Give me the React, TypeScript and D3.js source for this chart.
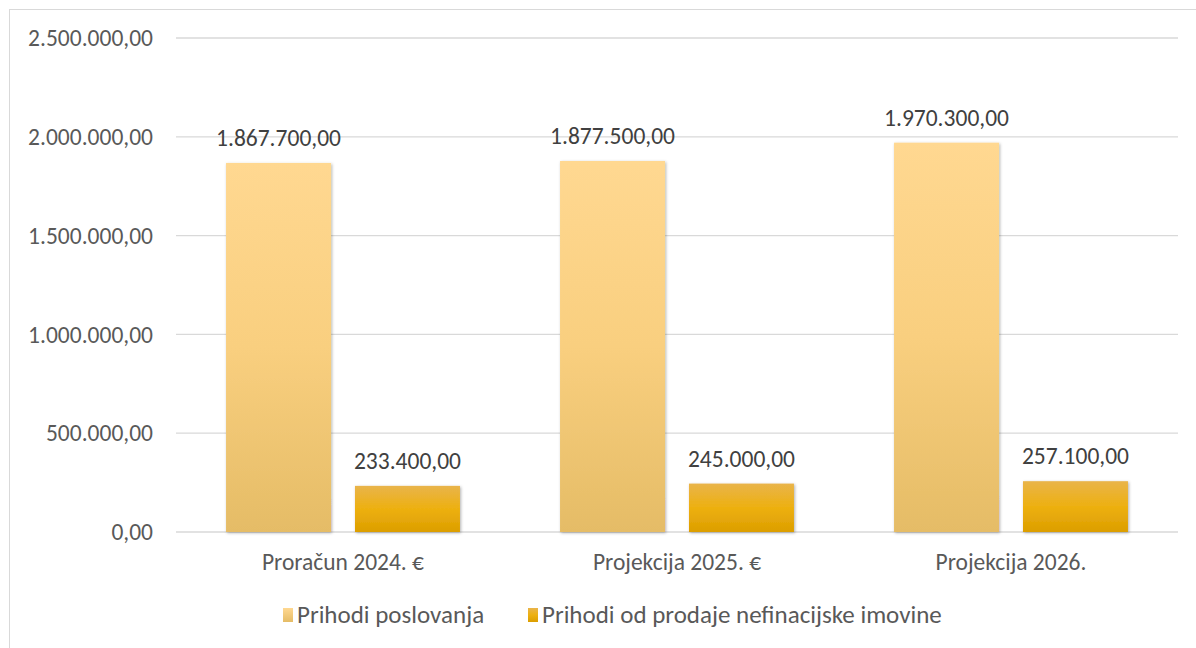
import React from 'react';
import * as d3 from 'd3';

const WIDTH = 1196;
const HEIGHT = 648;
const MARGIN = { top: 38, right: 18, bottom: 116, left: 176 };

const categories = ['Proračun 2024. €', 'Projekcija 2025. €', 'Projekcija 2026.'];
const seriesNames = ['Prihodi poslovanja', 'Prihodi od prodaje nefinacijske imovine'];
const prihodiPoslovanja = [1867700, 1877500, 1970300];
const prihodiProdaje = [233400, 245000, 257100];
const yTicks = [0, 500000, 1000000, 1500000, 2000000, 2500000];

const FONT = 'Carlito, Lato, "Open Sans", sans-serif';
const TEXT = '#595959';
const FS = 23.5;

const fmt = (v: number) => {
  const [i, d] = v.toFixed(2).split('.');
  return i.replace(/\B(?=(\d{3})+(?!\d))/g, '.') + ',' + d;
};

const App = () => {
  const boundsWidth = WIDTH - MARGIN.left - MARGIN.right;
  const boundsHeight = HEIGHT - MARGIN.top - MARGIN.bottom;

  const xScale = d3.scaleBand().domain(categories).range([0, boundsWidth]);
  const xInner = d3
    .scaleBand()
    .domain(seriesNames)
    .range([0, xScale.bandwidth()])
    .paddingInner(0.186)
    .paddingOuter(0.388);
  const yScale = d3.scaleLinear().domain([0, 2500000]).range([boundsHeight, 0]);

  const series = [prihodiPoslovanja, prihodiProdaje];
  const fills = ['url(#gradA)', 'url(#gradB)'];

  return (
    <svg width={WIDTH} height={HEIGHT} style={{ display: 'block', position: 'absolute', left: 0, top: 0 }}>
      <defs>
        <linearGradient id="gradA" x1="0" y1="0" x2="0" y2="1">
          <stop offset="0%" stopColor="#ffd891" />
          <stop offset="50%" stopColor="#f9cf7f" />
          <stop offset="100%" stopColor="#e5bc66" />
        </linearGradient>
        <linearGradient id="gradB" x1="0" y1="0" x2="0" y2="1">
          <stop offset="0%" stopColor="#e9b44a" />
          <stop offset="50%" stopColor="#edb010" />
          <stop offset="100%" stopColor="#dc9e00" />
        </linearGradient>
        <linearGradient id="legA" x1="0" y1="0" x2="0" y2="1">
          <stop offset="0%" stopColor="#ffd891" />
          <stop offset="100%" stopColor="#e5bc66" />
        </linearGradient>
        <filter id="shadow" x="-10%" y="-10%" width="120%" height="120%">
          <feDropShadow dx="1" dy="1" stdDeviation="1.5" floodColor="#000" floodOpacity="0.3" />
        </filter>
      </defs>
      <rect x={9.5} y={9.5} width={WIDTH - 9} height={HEIGHT} fill="#fff" stroke="#d9d9d9" />
      <g transform={`translate(${MARGIN.left},${MARGIN.top})`}>
        {yTicks.map((t) => (
          <g key={t}>
            <line x1={0} x2={boundsWidth} y1={yScale(t)} y2={yScale(t)} stroke="#d9d9d9" strokeWidth={1.3} />
            <text
              x={-23}
              y={yScale(t)}
              dy="0.35em"
              textAnchor="end"
              fontFamily={FONT}
              fontSize={FS}
              fill={TEXT}
            >
              {fmt(t)}
            </text>
          </g>
        ))}
        {categories.map((c, ci) => (
          <g key={c} transform={`translate(${xScale(c)},0)`}>
            {series.map((s, si) => {
              const x = xInner(seriesNames[si]) ?? 0;
              const y = yScale(s[ci]);
              return (
                <g key={si}>
                  <rect
                    x={x}
                    y={y}
                    width={xInner.bandwidth()}
                    height={boundsHeight - y}
                    fill={fills[si]}
                    filter="url(#shadow)"
                  />
                  <text
                    x={x + xInner.bandwidth() / 2}
                    y={y - 17}
                    textAnchor="middle"
                    fontFamily={FONT}
                    fontSize={FS}
                    fill="#404040"
                  >
                    {fmt(s[ci])}
                  </text>
                </g>
              );
            })}
            <text
              x={xScale.bandwidth() / 2}
              y={boundsHeight + 38}
              textAnchor="middle"
              fontFamily={FONT}
              fontSize={FS}
              fill={TEXT}
            >
              {c}
            </text>
          </g>
        ))}
      </g>
      <g transform="translate(283,608)">
        <rect x={0} y={0} width={10} height={14} fill="url(#legA)" />
        <text x={14} y={14.5} fontFamily={FONT} fontSize={25} fill={TEXT}>
          {seriesNames[0]}
        </text>
        <rect x={245} y={0} width={10} height={14} fill="url(#gradB)" />
        <text x={259} y={14.5} fontFamily={FONT} fontSize={25} fill={TEXT}>
          {seriesNames[1]}
        </text>
      </g>
    </svg>
  );
};

export default App;
